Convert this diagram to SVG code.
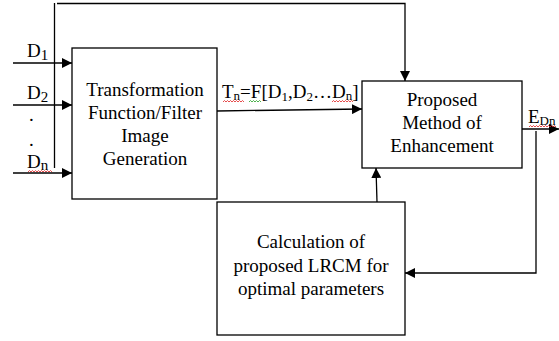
<svg xmlns="http://www.w3.org/2000/svg" width="559" height="341" viewBox="0 0 559 341">
  <style>
    .box { fill: #fff; stroke: #000; stroke-width: 1.3; }
    .wire { fill: none; stroke: #000; stroke-width: 1.3; }
    text { font-family: 'Liberation Serif', 'DejaVu Serif', serif; font-size: 19px; fill: #000; }
    .mid { text-anchor: middle; }
    .squig { fill: none; stroke: #e02020; stroke-width: 0.8; }
    .squig-g { fill: none; stroke: #20a020; stroke-width: 0.8; }
  </style>
  <defs>
    <marker id="arrow" viewBox="0 0 10 10" refX="10" refY="5" markerWidth="10" markerHeight="10" markerUnits="userSpaceOnUse" orient="auto">
      <path d="M0,0 L10,5 L0,10 z" fill="#000"/>
    </marker>
  </defs>

  <rect width="559" height="341" fill="#fff"/>

  <g id="connectors">
    <!-- inputs D1..Dn -->
    <line class="wire" x1="13" y1="63" x2="72" y2="63" marker-end="url(#arrow)"/>
    <line class="wire" x1="13" y1="105" x2="72" y2="105" marker-end="url(#arrow)"/>
    <line class="wire" x1="13" y1="173" x2="72" y2="173" marker-end="url(#arrow)"/>
    <!-- bypass of inputs over the top -->
    <line class="wire" x1="54.5" y1="3" x2="54.5" y2="168"/>
    <polyline class="wire" points="57,3.5 405,3.5 405,81" marker-end="url(#arrow)"/>
    <!-- filter output to enhancement -->
    <line class="wire" x1="217" y1="111" x2="362" y2="109" marker-end="url(#arrow)"/>
    <!-- enhancement output -->
    <line class="wire" x1="522" y1="129" x2="559" y2="129" marker-end="url(#arrow)"/>
    <!-- feedback to LRCM block -->
    <polyline class="wire" points="536,131 536,273 405,273" marker-end="url(#arrow)"/>
    <!-- LRCM block up to enhancement -->
    <line class="wire" x1="377" y1="202" x2="376" y2="168" marker-end="url(#arrow)"/>
  </g>

  <g id="inputs">
    <text x="27" y="57">D<tspan dy="3" font-size="15">1</tspan></text>
    <text x="27" y="99">D<tspan dy="3" font-size="15">2</tspan></text>
    <text x="29" y="121">.</text>
    <text x="29" y="146">.</text>
    <text x="27" y="168">D<tspan dy="2" font-size="15">n</tspan></text>
    <path class="squig" d="M28,172 l1.5,-1.5 l1.5,1.5 l1.5,-1.5 l1.5,1.5 l1.5,-1.5 l1.5,1.5 l1.5,-1.5 l1.5,1.5 l1.5,-1.5 l1.5,1.5 l1.5,-1.5 l1.5,1.5 l1.5,-1.5 l1.5,1.5 l1.5,-1.5 l1.5,1.5"/>
  </g>

  <g id="filter">
    <rect class="box" x="72" y="48" width="145" height="151"/>
    <text class="mid" x="145" y="96">Transformation</text>
    <text class="mid" x="145" y="119">Function/Filter</text>
    <text class="mid" x="145" y="142">Image</text>
    <text class="mid" x="145" y="165">Generation</text>
  </g>

  <g id="filter-output-label">
    <text x="222" y="98" font-size="18">T<tspan dy="2" font-size="13">n</tspan><tspan dy="-2">=F[D</tspan><tspan dy="3" font-size="13">1</tspan><tspan dy="-3">,D</tspan><tspan dy="3" font-size="13">2</tspan><tspan dy="-3">…D</tspan><tspan dy="2" font-size="13">n</tspan><tspan dy="-2">]</tspan></text>
    <path class="squig" d="M223,102 l1.5,-1.5 l1.5,1.5 l1.5,-1.5 l1.5,1.5 l1.5,-1.5 l1.5,1.5 l1.5,-1.5 l1.5,1.5 l1.5,-1.5 l1.5,1.5 l1.5,-1.5 l1.5,1.5 l1.5,-1.5 l1.5,1.5"/>
    <path class="squig-g" d="M249,102 l1.5,-1.5 l1.5,1.5 l1.5,-1.5 l1.5,1.5 l1.5,-1.5 l1.5,1.5 l1.5,-1.5 l1.5,1.5"/>
    <path class="squig" d="M332,102 l1.5,-1.5 l1.5,1.5 l1.5,-1.5 l1.5,1.5 l1.5,-1.5 l1.5,1.5 l1.5,-1.5 l1.5,1.5 l1.5,-1.5 l1.5,1.5 l1.5,-1.5 l1.5,1.5 l1.5,-1.5 l1.5,1.5"/>
  </g>

  <g id="enhancement">
    <rect class="box" x="362" y="81" width="160" height="87"/>
    <text class="mid" x="442" y="106">Proposed</text>
    <text class="mid" x="442" y="129">Method of</text>
    <text class="mid" x="442" y="152">Enhancement</text>
  </g>

  <g id="enhancement-output-label">
    <text x="528" y="123">E<tspan dy="2" font-size="13">Dn</tspan></text>
    <path class="squig" d="M529,127 l1.5,-1.5 l1.5,1.5 l1.5,-1.5 l1.5,1.5 l1.5,-1.5 l1.5,1.5 l1.5,-1.5 l1.5,1.5 l1.5,-1.5 l1.5,1.5 l1.5,-1.5 l1.5,1.5 l1.5,-1.5 l1.5,1.5 l1.5,-1.5 l1.5,1.5 l1.5,-1.5 l1.5,1.5"/>
  </g>

  <g id="lrcm">
    <rect class="box" x="217" y="202" width="188" height="133"/>
    <text class="mid" x="311" y="248">Calculation of</text>
    <text class="mid" x="311" y="272">proposed LRCM for</text>
    <text class="mid" x="311" y="295">optimal parameters</text>
  </g>
</svg>
